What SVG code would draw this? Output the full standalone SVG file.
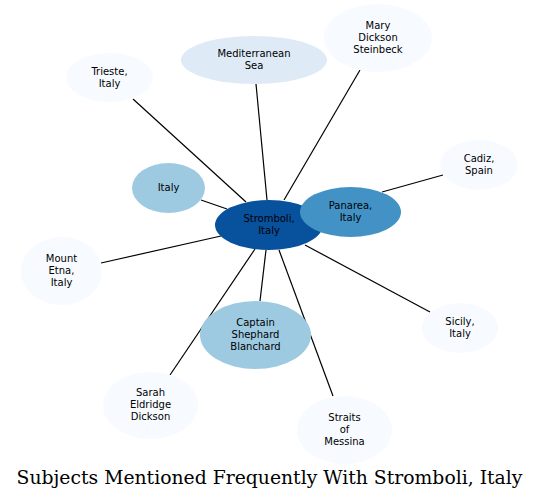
<svg xmlns="http://www.w3.org/2000/svg" width="540" height="499" viewBox="0 0 540 499">
<style>
.n text{font-family:"DejaVu Sans",sans-serif;font-size:10px;fill:#000;text-anchor:middle}
.e line{stroke:#000;stroke-width:1.2}
.t{font-family:"DejaVu Serif",serif;font-size:18.8px;fill:#000;text-anchor:middle}
.c0{fill:#f7fbff}.c1{fill:#deebf7}.c2{fill:#9ecae1}.c3{fill:#4292c6}.c4{fill:#08519c}
</style>
<rect width="540" height="499" fill="#fff"/>
<g class="e" id="edges">
<line x1="133" y1="99" x2="246" y2="202"/>
<line x1="256" y1="84" x2="267" y2="200"/>
<line x1="360" y1="70" x2="284" y2="200"/>
<line x1="201" y1="200" x2="227" y2="209"/>
<line x1="443" y1="175" x2="382" y2="192"/>
<line x1="101" y1="263" x2="221" y2="236"/>
<line x1="260" y1="301" x2="266" y2="250"/>
<line x1="170" y1="375" x2="255" y2="249"/>
<line x1="333" y1="396" x2="279" y2="250"/>
<line x1="430" y1="312" x2="305" y2="245"/>
<line x1="300" y1="219" x2="324" y2="217"/>
</g>
<g class="n" id="n-stromboli"><ellipse class="c4" cx="269" cy="225" rx="54" ry="25"/><text x="269" y="222">Stromboli,</text><text x="269" y="234">Italy</text></g>
<g class="n" id="n-panarea"><ellipse class="c3" cx="350.5" cy="212" rx="50.5" ry="25"/><text x="350.5" y="209">Panarea,</text><text x="350.5" y="221">Italy</text></g>
<g class="n" id="n-italy"><ellipse class="c2" cx="168.5" cy="188" rx="36.5" ry="25"/><text x="168.5" y="191">Italy</text></g>
<g class="n" id="n-trieste"><ellipse class="c0" cx="109.5" cy="77.5" rx="43.5" ry="24.5"/><text x="109.5" y="74.5">Trieste,</text><text x="109.5" y="86.5">Italy</text></g>
<g class="n" id="n-med"><ellipse class="c1" cx="254" cy="60" rx="73" ry="24"/><text x="254" y="57">Mediterranean</text><text x="254" y="69">Sea</text></g>
<g class="n" id="n-mary"><ellipse class="c0" cx="378" cy="38" rx="54" ry="34"/><text x="378" y="29">Mary</text><text x="378" y="41">Dickson</text><text x="378" y="53">Steinbeck</text></g>
<g class="n" id="n-cadiz"><ellipse class="c0" cx="479" cy="165" rx="39" ry="25"/><text x="479" y="162">Cadiz,</text><text x="479" y="174">Spain</text></g>
<g class="n" id="n-etna"><ellipse class="c0" cx="61.5" cy="271" rx="40.5" ry="34"/><text x="61.5" y="262">Mount</text><text x="61.5" y="274">Etna,</text><text x="61.5" y="286">Italy</text></g>
<g class="n" id="n-captain"><ellipse class="c2" cx="255.5" cy="335" rx="55.5" ry="34"/><text x="255.5" y="326">Captain</text><text x="255.5" y="338">Shephard</text><text x="255.5" y="350">Blanchard</text></g>
<g class="n" id="n-sarah"><ellipse class="c0" cx="150.5" cy="405.5" rx="47.5" ry="33.5"/><text x="150.5" y="396">Sarah</text><text x="150.5" y="408">Eldridge</text><text x="150.5" y="420">Dickson</text></g>
<g class="n" id="n-sicily"><ellipse class="c0" cx="460" cy="328" rx="38" ry="25"/><text x="460" y="325">Sicily,</text><text x="460" y="337">Italy</text></g>
<g class="n" id="n-straits"><ellipse class="c0" cx="344.5" cy="430" rx="47.5" ry="34"/><text x="344.5" y="421">Straits</text><text x="344.5" y="433">of</text><text x="344.5" y="445">Messina</text></g>
<text class="t" x="269.5" y="484">Subjects Mentioned Frequently With Stromboli, Italy</text>
</svg>
